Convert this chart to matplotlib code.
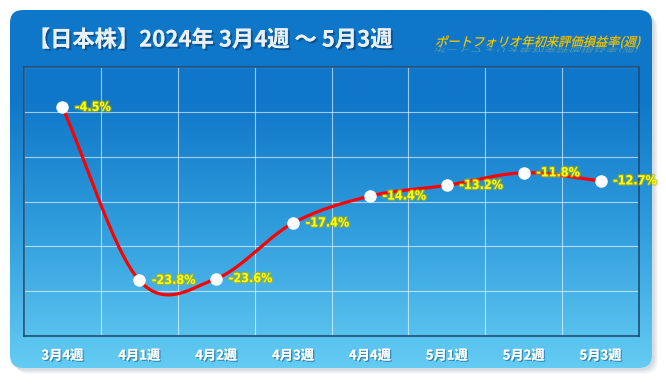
import numpy as np
import matplotlib
matplotlib.use("Agg")
import matplotlib.pyplot as plt
from matplotlib.patches import FancyBboxPatch, PathPatch
from matplotlib.colors import LinearSegmentedColormap
from matplotlib.textpath import TextPath
from matplotlib.font_manager import FontProperties
from matplotlib.transforms import Affine2D
import matplotlib.patheffects as pe

plt.rcParams['font.family'] = ['Noto Sans CJK JP', 'DejaVu Sans']

# データ
weeks = ['3月4週', '4月1週', '4月2週', '4月3週', '4月4週', '5月1週', '5月2週', '5月3週']
returns = [-4.5, -23.8, -23.6, -17.4, -14.4, -13.2, -11.8, -12.7]
title = '【日本株】2024年 3月4週 ～ 5月3週'
subtitle = 'ポートフォリオ年初来評価損益率(週)'

W, H = 666, 384
fig = plt.figure(figsize=(W / 100, H / 100), dpi=100)
fig.patch.set_facecolor('white')


def fx(px):
    return px / W


def fy(py):
    return (H - py) / H


# 背景の角丸ボックス（影 + グラデーション）
bg = fig.add_axes([0, 0, 1, 1])
bg.set_xlim(0, W)
bg.set_ylim(H, 0)
bg.axis('off')

for i, a in enumerate([0.05, 0.06, 0.08, 0.10]):
    off = 6 - i * 1.2
    bg.add_patch(FancyBboxPatch((10 + off, 10 + off), 642, 358,
                                boxstyle='round,pad=0,rounding_size=13',
                                fc='#6b7f92', ec='none', alpha=a))

box = FancyBboxPatch((10, 10), 642, 358, boxstyle='round,pad=0,rounding_size=13',
                     fc='none', ec='none')
bg.add_patch(box)
cmap = LinearSegmentedColormap.from_list(
    'bgblue', [(0, '#0f77c9'), (0.25, '#0f77c9'), (0.6, '#2f9cdc'), (1, '#64ccf3')])
grad = np.linspace(0, 1, 256).reshape(-1, 1)
im = bg.imshow(grad, cmap=cmap, extent=(10, 652, 368, 10), aspect='auto', zorder=1)
im.set_clip_path(box)

# タイトル
bg.text(28, 40, title, fontsize=16, fontweight='bold', color='#e8f0f8',
        va='center', ha='left', zorder=5,
        path_effects=[pe.withSimplePatchShadow(offset=(1.5, -1.5), shadow_rgbFace='#0a3d6b', alpha=0.6),
                      pe.Normal()])

# 右上のサブタイトル（斜体＋反射）
fp = FontProperties(family='Noto Sans CJK JP')
tp = TextPath((0, 0), subtitle, size=12.3, prop=fp)
skew = Affine2D().skew_deg(15, 0).translate(435, H - 46)
bg.add_patch(PathPatch(tp, transform=skew, fc='#ffe600', ec='#e0a000', lw=0.25, zorder=5))
refl = Affine2D().skew_deg(-15, 0).scale(1, -0.55).translate(435, H - 47)
bg.add_patch(PathPatch(tp, transform=refl, fc='#e8d860', ec='none', alpha=0.35, zorder=4))

# グラフ領域
ax = fig.add_axes([fx(24), fy(336), fx(639) - fx(24), fy(67) - fy(336)])
ax.patch.set_alpha(0)
x = np.arange(len(weeks))

# 滑らかな線 (Catmull-Rom)
y = np.array(returns)
m = np.zeros_like(y)
m[1:-1] = (y[2:] - y[:-2]) / 2
m[0] = y[1] - y[0]
m[-1] = y[-1] - y[-2]
xs, ys = [], []
for i in range(len(y) - 1):
    t = np.linspace(0, 1, 40)
    h00 = 2 * t**3 - 3 * t**2 + 1
    h10 = t**3 - 2 * t**2 + t
    h01 = -2 * t**3 + 3 * t**2
    h11 = t**3 - t**2
    xs.append(x[i] + t)
    ys.append(h00 * y[i] + h10 * m[i] + h01 * y[i + 1] + h11 * m[i + 1])
ax.plot(np.concatenate(xs), np.concatenate(ys), color='#ff0000', lw=2.3, zorder=3,
        solid_capstyle='round')
ax.plot(x, y, 'o', color='white', markersize=9, markeredgewidth=0, zorder=4)

for xi, yi in zip(x, returns):
    ax.annotate(f'{yi}%', (xi, yi), xytext=(9, 0), textcoords='offset points',
                fontsize=9, fontweight='bold', fontstretch='condensed', color='#ffff00',
                va='center', ha='left', family=['DejaVu Sans'], zorder=5,
                path_effects=[pe.withStroke(linewidth=1.8, foreground='#b8b000', alpha=0.6)])

ax.set_xlim(-0.5, len(weeks) - 0.5)
ax.set_ylim(-30, 0)
ax.set_yticks(np.arange(-30, 1, 5))
ax.set_xticks(np.arange(-0.5, len(weeks), 1))
ax.grid(True, color='white', alpha=0.6, lw=0.8)
ax.tick_params(length=0, labelleft=False, labelbottom=False)
ax.set_xticks(x, minor=True)
ax.set_xticklabels(weeks, minor=True)
ax.tick_params(axis='x', which='minor', length=0, pad=9, labelsize=9.5, labelcolor='white')
for lab in ax.get_xticklabels(minor=True):
    lab.set_fontweight('bold')
    lab.set_path_effects([pe.withSimplePatchShadow(offset=(1, -1), shadow_rgbFace='#1a5f8f', alpha=0.6),
                          pe.Normal()])
for s in ax.spines.values():
    s.set_color('#1f4c78')
    s.set_linewidth(1.2)

fig.savefig('out.png', dpi=100, facecolor='white')
